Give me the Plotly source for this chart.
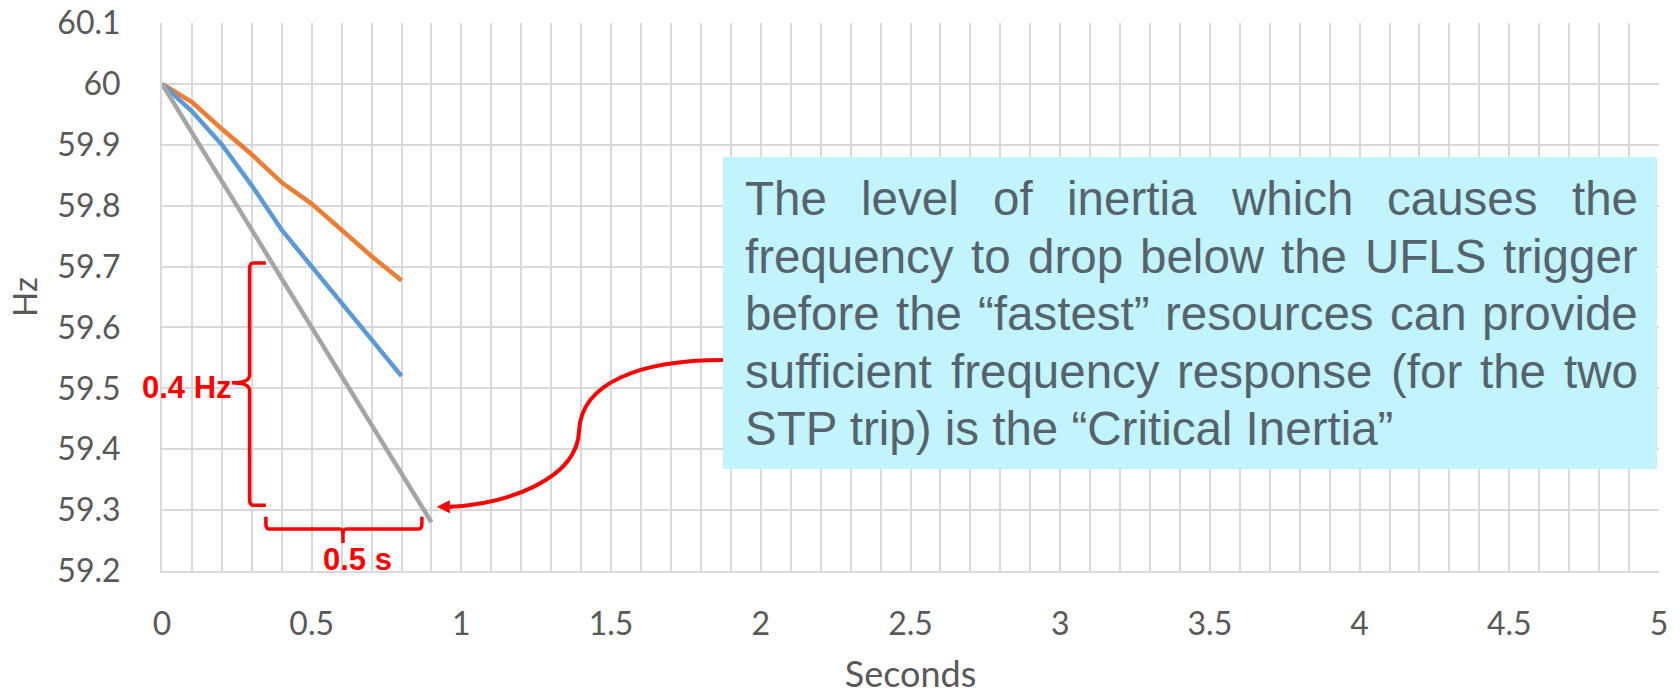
import plotly.graph_objects as go

# ---------------- data ----------------
TIME_S = [0, 0.1, 0.2, 0.3, 0.4, 0.5, 0.6, 0.7, 0.8]
FREQ_ORANGE = [60.0, 59.970, 59.926, 59.884, 59.838, 59.803, 59.760, 59.717, 59.677]
FREQ_BLUE = [60.0, 59.955, 59.900, 59.833, 59.760, 59.700, 59.640, 59.580, 59.520]
TIME_GRAY = [0, 0.1, 0.2, 0.3, 0.4, 0.5, 0.6, 0.7, 0.8, 0.9]
FREQ_GRAY = [60.0, 59.92, 59.84, 59.76, 59.68, 59.60, 59.52, 59.44, 59.36, 59.28]

X_TICKS = [0, 0.5, 1, 1.5, 2, 2.5, 3, 3.5, 4, 4.5, 5]
X_TICK_TEXT = ["0", "0.5", "1", "1.5", "2", "2.5", "3", "3.5", "4", "4.5", "5"]
Y_TICKS = [59.2, 59.3, 59.4, 59.5, 59.6, 59.7, 59.8, 59.9, 60.0, 60.1]
Y_TICK_TEXT = ["59.2", "59.3", "59.4", "59.5", "59.6", "59.7", "59.8", "59.9", "60", "60.1"]

NOTE_LINES = [
    "The level of inertia which causes the",
    "frequency to drop below the UFLS trigger",
    "before the \u201cfastest\u201d resources can provide",
    "sufficient frequency response (for the two",
    "STP trip) is the \u201cCritical Inertia\u201d",
]
LABEL_HZ = "0.4 Hz"
LABEL_S = "0.5 s"

# ---------------- layout constants ----------------
W, H = 1680, 695
ML, MR, MT, MB = 162, 21, 23, 124
PW, PH = W - ML - MR, H - MT - MB

GRID = "#d9d9d9"
TICK_COL = "#595959"
RED = "#ff0000"
TEXT_COL = "#56636c"
BOX_COL = "#c1f4fd"
TICK_FONT = dict(family="Lato", size=32, color=TICK_COL)


def px_x(p):
    return (p - ML) / PW


def px_y(p):
    return (H - MB - p) / PH


fig = go.Figure()
fig.add_trace(go.Scatter(x=TIME_S, y=FREQ_ORANGE, mode="lines",
                         line=dict(color="#ed7d31", width=4.5)))
fig.add_trace(go.Scatter(x=TIME_S, y=FREQ_BLUE, mode="lines",
                         line=dict(color="#5b9bd5", width=4.5)))
fig.add_trace(go.Scatter(x=TIME_GRAY, y=FREQ_GRAY, mode="lines",
                         line=dict(color="#a5a5a5", width=4.5)))

shapes = []
# vertical brace (0.4 Hz)
shapes.append(dict(
    type="path", xref="x", yref="y",
    path=("M 0.347,59.706 L 0.305,59.706 Q 0.2926,59.706 0.2926,59.696 "
          "L 0.2926,59.522 Q 0.2926,59.509 0.234,59.509 "
          "Q 0.2926,59.509 0.2926,59.496 L 0.2926,59.318 "
          "Q 0.2926,59.308 0.305,59.308 L 0.347,59.308"),
    line=dict(color=RED, width=3.5)))
# horizontal brace (0.5 s)
shapes.append(dict(
    type="path", xref="x", yref="y",
    path=("M 0.347,59.289 L 0.347,59.277 Q 0.347,59.269 0.357,59.269 "
          "L 0.594,59.269 Q 0.6045,59.269 0.6045,59.259 L 0.6045,59.246 "
          "M 0.6045,59.259 Q 0.6045,59.269 0.615,59.269 "
          "L 0.858,59.269 Q 0.868,59.269 0.868,59.277 L 0.868,59.289"),
    line=dict(color=RED, width=3.5)))
# curved connector
shapes.append(dict(
    type="path", xref="x", yref="y",
    path=("M 1.874,59.5465 C 1.60,59.5465 1.40,59.51 1.393,59.43 "
          "C 1.387,59.35 1.15,59.31 0.962,59.3056"),
    line=dict(color=RED, width=4)))
# note box
shapes.append(dict(
    type="rect", xref="paper", yref="paper",
    x0=px_x(723), x1=px_x(1657), y0=px_y(469), y1=px_y(157),
    fillcolor=BOX_COL, line=dict(width=0), layer="above"))

annotations = []
annotations.append(dict(
    x=0.9175, y=59.3056, ax=0.975, ay=59.3056, xref="x", yref="y",
    axref="x", ayref="y", text="", showarrow=True, arrowhead=2,
    arrowsize=0.75, arrowwidth=3.5, arrowcolor=RED, standoff=0))
annotations.append(dict(
    x=px_x(234), y=px_y(387.5), xref="paper", yref="paper",
    text=LABEL_HZ, showarrow=False, xanchor="right", yanchor="middle",
    font=dict(family="Liberation Sans", size=31, color=RED, weight="bold")))
annotations.append(dict(
    x=px_x(357), y=px_y(559.6), xref="paper", yref="paper",
    text=LABEL_S, showarrow=False, xanchor="center", yanchor="middle",
    font=dict(family="Liberation Sans", size=31, color=RED, weight="bold")))

# justified note text (Arial / Liberation Sans metrics)
AW = {' ': 278, 'T': 611, 'h': 556, 'e': 556, 'l': 222, 'v': 500, 'o': 556,
      'f': 278, 'i': 222, 'n': 556, 'r': 333, 't': 278, 'a': 556, 'w': 722,
      'c': 500, 'u': 556, 's': 500, 'q': 556, 'y': 500, 'd': 556, 'p': 556,
      'b': 556, 'U': 722, 'F': 611, 'L': 556, 'S': 667, 'g': 556,
      '\u201c': 333, '\u201d': 333, '(': 333, ')': 333, 'P': 667, 'C': 722,
      'I': 278, 'm': 833}
FS = 47.5
TXT_L, TXT_R = 744, 1637
BASELINES = [215, 272.5, 330, 387.5, 445]
note_font = dict(family="Liberation Sans", size=FS, color=TEXT_COL)


def wwidth(s):
    return sum(AW.get(ch, 556) for ch in s) * FS / 1000.0


for i, line in enumerate(NOTE_LINES):
    mid = BASELINES[i] - 0.3465 * FS
    if i < len(NOTE_LINES) - 1:
        words = line.split(" ")
        widths = [wwidth(w_) for w_ in words]
        gap = (TXT_R - TXT_L - sum(widths)) / (len(words) - 1)
        cur = TXT_L
        for w_, wd in zip(words, widths):
            annotations.append(dict(
                x=px_x(cur - 1), y=px_y(mid), xref="paper", yref="paper",
                text=w_, showarrow=False, xanchor="left", yanchor="middle",
                font=note_font))
            cur += wd + gap
    else:
        annotations.append(dict(
            x=px_x(TXT_L - 1), y=px_y(mid), xref="paper", yref="paper",
            text=line, showarrow=False, xanchor="left", yanchor="middle",
            font=note_font))

fig.update_layout(
    width=W, height=H,
    margin=dict(l=ML, r=MR, t=MT, b=MB, pad=0, autoexpand=False),
    paper_bgcolor="white", plot_bgcolor="white",
    showlegend=False, hovermode=False,
    shapes=shapes, annotations=annotations,
    xaxis=dict(
        range=[0, 5], tickvals=X_TICKS, ticktext=X_TICK_TEXT,
        showgrid=True, gridcolor=GRID, gridwidth=1.5,
        minor=dict(dtick=0.1, tick0=0, showgrid=True, gridcolor=GRID, gridwidth=1.5),
        zeroline=False, showline=True, linecolor=GRID, linewidth=2,
        ticks="outside", ticklen=0, ticklabelstandoff=24,
        tickfont=TICK_FONT, automargin=False,
        title=dict(text="Seconds", font=dict(family="Lato", size=36, color=TICK_COL),
                   standoff=36),
    ),
    yaxis=dict(
        range=[59.2, 60.1], tickvals=Y_TICKS, ticktext=Y_TICK_TEXT,
        showgrid=True, gridcolor=GRID, gridwidth=1.5,
        zeroline=False, showline=True, linecolor=GRID, linewidth=2,
        ticks="outside", ticklen=0, ticklabelstandoff=33,
        tickfont=TICK_FONT, automargin=False,
        title=dict(text="Hz", font=dict(family="Lato", size=33, color=TICK_COL),
                   standoff=10),
    ),
)

fig.write_html(
    "out.html",
    config={"displayModeBar": False},
    post_script="document.body.style.margin='0';document.body.style.overflow='hidden';",
)
